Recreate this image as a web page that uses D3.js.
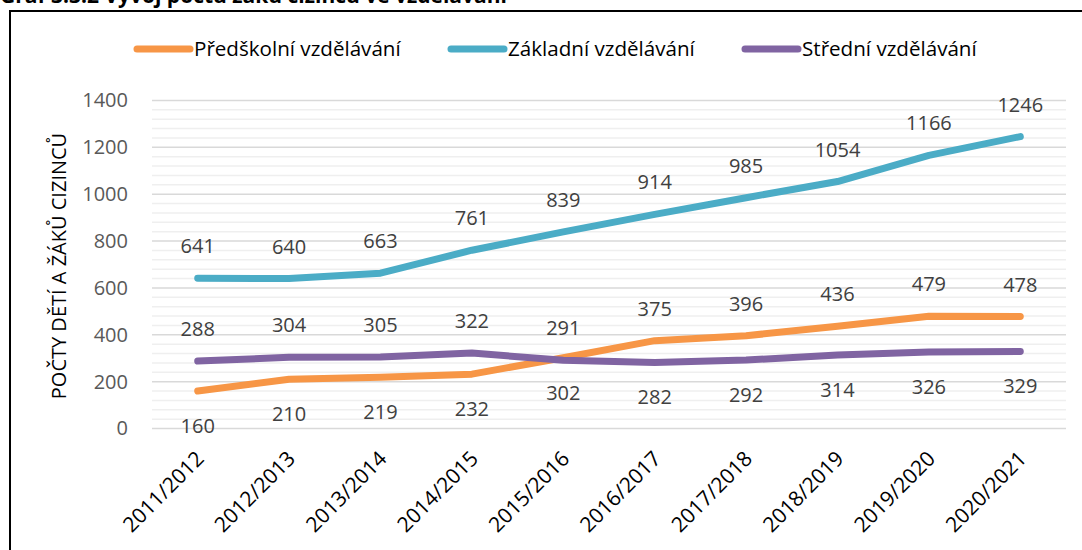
<!DOCTYPE html>
<html>
<head>
<meta charset="utf-8">
<script src="https://cdn.jsdelivr.net/npm/d3@7"></script>
<style>
  body { margin: 0; background: #fff; }
  svg { display: block; font-family: "Open Sans", "Liberation Sans", sans-serif; }
</style>
</head>
<body>
<svg id="chart" width="1082" height="550"></svg>
<script>
// categories (school years)
const years = ['2011/2012', '2012/2013', '2013/2014', '2014/2015', '2015/2016',
  '2016/2017', '2017/2018', '2018/2019', '2019/2020', '2020/2021'];

// series values
const predskolni = [160, 210, 219, 232, 302, 375, 396, 436, 479, 478];
const zakladni = [641, 640, 663, 761, 839, 914, 985, 1054, 1166, 1246];
const stredni = [288, 304, 305, 322, 291, 282, 292, 314, 326, 329];

// label placement per point (1 = above, -1 = below)
const predskolniPos = [-1, -1, -1, -1, -1, 1, 1, 1, 1, 1];
const zakladniPos = [1, 1, 1, 1, 1, 1, 1, 1, 1, 1];
const stredniPos = [1, 1, 1, 1, 1, -1, -1, -1, -1, -1];

const yTicks = [0, 200, 400, 600, 800, 1000, 1200, 1400];

const series = [
  {name: 'Předškolní vzdělávání', values: predskolni, pos: predskolniPos, color: '#F79646'},
  {name: 'Základní vzdělávání', values: zakladni, pos: zakladniPos, color: '#4BACC6'},
  {name: 'Střední vzdělávání', values: stredni, pos: stredniPos, color: '#8064A2'}
];

const svg = d3.select('#chart');
const margin = {left: 152, right: 16, top: 100.5, bottom: 121.5};
const width = 1082 - margin.left - margin.right;
const height = 550 - margin.top - margin.bottom;

// cut-off title above the frame
svg.append('text')
    .attr('x', 0)
    .attr('y', 3)
    .attr('font-size', 21)
    .attr('font-weight', 'bold')
    .attr('fill', '#000')
    .text('Graf 3.3.2 Vývoj počtu žáků cizinců ve vzdělávání');

// frame
svg.append('rect')
    .attr('x', 10)
    .attr('y', 11)
    .attr('width', 1100)
    .attr('height', 600)
    .attr('fill', '#fff')
    .attr('stroke', '#000')
    .attr('stroke-width', 2);

const chart = svg.append('g')
    .attr('transform', `translate(${margin.left},${margin.top})`);

const xScale = d3.scaleBand()
    .domain(years)
    .range([0, width]);

const yScale = d3.scaleLinear()
    .domain([0, 1400])
    .range([height, 0]);

// minor gridlines
chart.append('g')
    .selectAll('line')
    .data(d3.range(0, 1401, 40).filter(v => v % 200 !== 0))
  .join('line')
    .attr('x1', 0)
    .attr('x2', width)
    .attr('y1', d => yScale(d))
    .attr('y2', d => yScale(d))
    .attr('stroke', '#efefef')
    .attr('stroke-width', 1.5);

// major gridlines
chart.append('g')
    .selectAll('line')
    .data(yTicks)
  .join('line')
    .attr('x1', 0)
    .attr('x2', width)
    .attr('y1', d => yScale(d))
    .attr('y2', d => yScale(d))
    .attr('stroke', '#d9d9d9')
    .attr('stroke-width', 1.5);

// y axis labels
const yAxis = d3.axisLeft(yScale)
    .tickValues(yTicks)
    .tickFormat(d3.format('d'))
    .tickSize(0)
    .tickPadding(24);

chart.append('g')
    .call(yAxis)
    .call(g => g.select('.domain').remove())
    .selectAll('text')
    .attr('font-size', 20)
    .attr('font-family', '"Open Sans", sans-serif')
    .attr('fill', '#595959');

// x axis labels
const xAxis = d3.axisBottom(xScale).tickSize(0);

chart.append('g')
    .attr('transform', `translate(0,${height})`)
    .call(xAxis)
    .call(g => g.select('.domain').remove())
    .selectAll('text')
    .attr('font-size', 21)
    .attr('font-family', '"Open Sans", sans-serif')
    .attr('fill', '#000')
    .attr('text-anchor', 'end')
    .attr('transform', 'translate(-5,19) rotate(-45)')
    .attr('dy', '0.7em');

// y axis title
svg.append('text')
    .attr('transform', `translate(66,266) rotate(-90)`)
    .attr('text-anchor', 'middle')
    .attr('font-size', 20)
    .attr('fill', '#000')
    .text('POČTY DĚTÍ A ŽÁKŮ CIZINCŮ');

// lines
const line = d3.line()
    .x((d, i) => xScale(years[i]) + xScale.bandwidth() / 2)
    .y(d => yScale(d));

chart.selectAll('.series-line')
    .data(series)
  .join('path')
    .attr('class', 'series-line')
    .attr('d', d => line(d.values))
    .attr('fill', 'none')
    .attr('stroke', d => d.color)
    .attr('stroke-width', 7)
    .attr('stroke-linecap', 'round')
    .attr('stroke-linejoin', 'round');

// data labels
series.forEach(s => {
  chart.append('g')
      .selectAll('text')
      .data(s.values)
    .join('text')
      .attr('x', (d, i) => xScale(years[i]) + xScale.bandwidth() / 2)
      .attr('y', (d, i) => yScale(d) + (s.pos[i] > 0 ? -32 : 35))
      .attr('dy', '0.35em')
      .attr('text-anchor', 'middle')
      .attr('font-size', 20)
      .attr('fill', '#404040')
      .text(d => d);
});

// legend
const legendX = [134, 448, 742];
const legend = svg.append('g');
series.forEach((s, i) => {
  const g = legend.append('g').attr('transform', `translate(${legendX[i]},49)`);
  g.append('line')
      .attr('x1', 3)
      .attr('x2', 56)
      .attr('stroke', s.color)
      .attr('stroke-width', 7)
      .attr('stroke-linecap', 'round');
  g.append('text')
      .attr('x', 60)
      .attr('dy', '0.35em')
      .attr('font-size', 20.6)
      .attr('fill', '#000')
      .text(s.name);
});
</script>
</body>
</html>
